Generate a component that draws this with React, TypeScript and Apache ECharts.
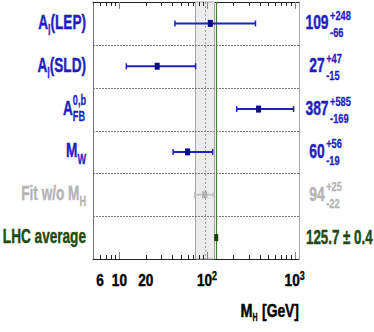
import React, { useEffect, useRef } from 'react';
import * as echarts from 'echarts';

// ---------------- data ----------------
const rowNames = ['A_l(LEP)', 'A_l(SLD)', 'A_FB^0,b', 'M_W', 'Fit w/o M_H', 'LHC average'];
const labelMain = ['A', 'A', 'A', 'M', 'Fit w/o M', 'LHC average'];
const labelSub = ['l', 'l', 'FB', 'W', 'H', ''];
const labelTail = ['(LEP)', '(SLD)', '', '', '', ''];
const labelSup = ['', '', '0,b', '', '', ''];
const centralValues = [109, 27, 387, 60, 94, 125.7];
const errorsUp = [248, 47, 585, 56, 25, 0.4];
const errorsDown = [66, 15, 169, 19, 22, 0.4];
const valueTexts = ['109', '27', '387', '60', '94', '125.7 \u00b1 0.4'];
const upTexts = ['+248', '+47', '+585', '+56', '+25', ''];
const downTexts = ['-66', '-15', '-169', '-19', '-22', ''];
const xTickLabels = [6, 10, 20, 100, 1000];
const xMajorTicks = [10, 100, 1000];
const xMinorTicks = [6, 7, 8, 9, 20, 30, 40, 50, 60, 70, 80, 90, 200, 300, 400, 500, 600, 700, 800, 900];
const xMin = 5;
const xMax = 1120;
const axisTitleMain = 'M';
const axisTitleSub = 'H';
const axisTitleUnit = '[GeV]';

// ---------------- styles ----------------
const FONT = '"Liberation Sans", Arial, Helvetica, sans-serif';
const BLUE_TEXT = '#1f1fbf';
const BLUE_BAR = '#2020c4';
const BLUE_MARK = '#0c0c90';
const GRAY_TEXT = '#b4b4b4';
const GRAY_BAR = '#c6c6c6';
const GRAY_MARK = '#b0b0b0';
const GREEN_TEXT = '#1d4a12';
const GREEN_MARK = '#16400c';
const GREEN_LINE = '#3f8030';
const rowTextColors = [BLUE_TEXT, BLUE_TEXT, BLUE_TEXT, BLUE_TEXT, GRAY_TEXT, GREEN_TEXT];
const rowBarColors = [BLUE_BAR, BLUE_BAR, BLUE_BAR, BLUE_BAR, GRAY_BAR, GREEN_MARK];
const rowMarkColors = [BLUE_MARK, BLUE_MARK, BLUE_MARK, BLUE_MARK, GRAY_MARK, GREEN_MARK];

const N = rowNames.length;
const FIT_ROW = rowNames.indexOf('Fit w/o M_H');
const LHC_ROW = rowNames.indexOf('LHC average');

let measureCtx: CanvasRenderingContext2D | null = null;
function textWidth(t: string, size: number): number {
  if (!t) return 0;
  if (!measureCtx) measureCtx = document.createElement('canvas').getContext('2d');
  if (!measureCtx) return t.length * size * 0.55;
  measureCtx.font = `bold ${size}px ${FONT}`;
  return measureCtx.measureText(t).width;
}

function txt(text: string, x: number, y: number, size: number, color: string, scaleX: number, align = 'left') {
  return {
    type: 'text',
    x,
    y,
    scaleX,
    scaleY: 1,
    silent: true,
    style: {
      text,
      x: 0,
      y: 0,
      fill: color,
      stroke: color,
      lineWidth: size > 15 ? 0.45 : 0.3,
      fontSize: size,
      fontWeight: 'bold',
      fontFamily: FONT,
      align,
      textAlign: align,
      verticalAlign: 'middle',
      textVerticalAlign: 'middle',
    },
  };
}

function frame(api: any) {
  const tl = api.coord([xMin, 0]);
  const br = api.coord([xMax, N]);
  return { left: tl[0], top: tl[1], right: br[0], bottom: br[1] };
}

const customBase = {
  type: 'custom',
  coordinateSystem: 'cartesian2d',
  xAxisIndex: 0,
  yAxisIndex: 0,
  clip: false,
  silent: true,
  encode: { x: 0, y: 1 },
};

const option: any = {
  animation: false,
  backgroundColor: '#ffffff',
  grid: { left: 93, right: 75, top: 2, bottom: 73, containLabel: false },
  xAxis: [
    {
      type: 'log', logBase: 10, min: xMin, max: xMax, position: 'bottom',
      axisLine: { show: true, onZero: false, lineStyle: { color: '#222', width: 1 } },
      axisTick: { show: false }, axisLabel: { show: false }, splitLine: { show: false },
    },
    {
      type: 'log', logBase: 10, min: xMin, max: xMax, position: 'top',
      axisLine: { show: true, onZero: false, lineStyle: { color: '#222', width: 1 } },
      axisTick: { show: false }, axisLabel: { show: false }, splitLine: { show: false },
    },
  ],
  yAxis: [
    {
      type: 'value', min: 0, max: N, inverse: true, position: 'left',
      axisLine: { show: true, onZero: false, lineStyle: { color: '#777', width: 1 } },
      axisTick: { show: false }, axisLabel: { show: false }, splitLine: { show: false },
    },
    {
      type: 'value', min: 0, max: N, inverse: true, position: 'right',
      axisLine: { show: true, onZero: false, lineStyle: { color: '#aaa', width: 1 } },
      axisTick: { show: false }, axisLabel: { show: false }, splitLine: { show: false },
    },
  ],
  series: [
    // background: fit band, centre line, LHC line, row separators
    {
      ...customBase,
      z: 1,
      data: [[centralValues[FIT_ROW], 0]],
      renderItem: (_p: any, api: any) => {
        const f = frame(api);
        const c = centralValues[FIT_ROW];
        const xl = api.coord([c - errorsDown[FIT_ROW], 0])[0];
        const xh = api.coord([c + errorsUp[FIT_ROW], 0])[0];
        const xc = Math.round(api.coord([c, 0])[0]) + 0.5;
        const xg = Math.round(api.coord([centralValues[LHC_ROW], 0])[0]) + 0.5;
        const children: any[] = [
          {
            type: 'rect',
            shape: { x: Math.round(xl) + 0.5, y: f.top, width: Math.round(xh - xl), height: f.bottom - f.top },
            style: { fill: '#ececec', stroke: '#a4a4a4', lineWidth: 1 },
          },
          {
            type: 'line',
            shape: { x1: xc, y1: f.top, x2: xc, y2: f.bottom },
            style: { stroke: '#9a9a9a', lineWidth: 1, lineDash: [2, 2] },
          },
          {
            type: 'line',
            shape: { x1: xg, y1: f.top, x2: xg, y2: f.bottom },
            style: { stroke: GREEN_LINE, lineWidth: 1.2 },
          },
        ];
        for (let k = 1; k < N; k++) {
          const y = Math.round(api.coord([xMin, k])[1]) + 0.5;
          children.push({
            type: 'line',
            shape: { x1: f.left, y1: y, x2: f.right, y2: y },
            style: { stroke: '#7a7a7a', lineWidth: 1, lineDash: [2, 1] },
          });
        }
        return { type: 'group', children };
      },
    },
    // axis ticks (bottom & top, pointing inside)
    {
      ...customBase,
      z: 3,
      data: [...xMinorTicks.map((v) => [v, 0, 0]), ...xMajorTicks.map((v) => [v, 0, 1])],
      renderItem: (_p: any, api: any) => {
        const f = frame(api);
        const major = api.value(2) === 1;
        const x = Math.round(api.coord([api.value(0), 0])[0]) + 0.5;
        const len = major ? 7 : 4;
        const color = major ? '#888' : '#222';
        return {
          type: 'group',
          children: [
            { type: 'line', shape: { x1: x, y1: f.bottom, x2: x, y2: f.bottom - len }, style: { stroke: color, lineWidth: 1 } },
            { type: 'line', shape: { x1: x, y1: f.top, x2: x, y2: f.top + len }, style: { stroke: color, lineWidth: 1 } },
          ],
        };
      },
    },
    // error bars and markers
    {
      ...customBase,
      z: 4,
      data: centralValues.map((c, i) => [c, i + 0.5, c - errorsDown[i], c + errorsUp[i]]),
      renderItem: (p: any, api: any) => {
        const i = p.dataIndex;
        const y = api.coord([api.value(0), api.value(1)])[1];
        const xc = api.coord([api.value(0), api.value(1)])[0];
        const xl = api.coord([api.value(2), api.value(1)])[0];
        const xh = api.coord([api.value(3), api.value(1)])[0];
        const children: any[] = [];
        if (xh - xl > 4) {
          children.push({ type: 'line', shape: { x1: xl, y1: y, x2: xh, y2: y }, style: { stroke: rowBarColors[i], lineWidth: 2 } });
          children.push({ type: 'line', shape: { x1: xl, y1: y - 3, x2: xl, y2: y + 3 }, style: { stroke: rowBarColors[i], lineWidth: 1.5 } });
          children.push({ type: 'line', shape: { x1: xh, y1: y - 3, x2: xh, y2: y + 3 }, style: { stroke: rowBarColors[i], lineWidth: 1.5 } });
          children.push({ type: 'rect', shape: { x: xc - 2.5, y: y - 3.5, width: 5, height: 7 }, style: { fill: rowMarkColors[i] } });
        } else {
          children.push({ type: 'rect', shape: { x: xc - 1.5, y: y - 3.5, width: 4, height: 7 }, style: { fill: rowMarkColors[i] } });
        }
        return { type: 'group', children };
      },
    },
    // left row labels
    {
      ...customBase,
      z: 5,
      data: rowNames.map((_n, i) => [xMin, i + 0.5]),
      renderItem: (p: any, api: any) => {
        const i = p.dataIndex;
        const f = frame(api);
        const cy = api.coord([xMin, i + 0.5])[1];
        const R = f.left - 7;
        const SC = 0.68;
        const SS = 0.65;
        const color = rowTextColors[i];
        const wMain = textWidth(labelMain[i], 20) * SC;
        const wSub = textWidth(labelSub[i], 14) * SS;
        const wSup = textWidth(labelSup[i], 14) * SS;
        const wScript = Math.max(wSub, wSup);
        const wTail = textWidth(labelTail[i], 20) * SC;
        const x0 = R - (wMain + wScript + wTail);
        const children: any[] = [txt(labelMain[i], x0, cy - 1, 20, color, SC)];
        if (labelSub[i]) children.push(txt(labelSub[i], x0 + wMain, cy + 7, 14, color, SS));
        if (labelSup[i]) children.push(txt(labelSup[i], x0 + wMain, cy - 9, 14, color, SS));
        if (labelTail[i]) children.push(txt(labelTail[i], x0 + wMain + wScript, cy - 1, 20, color, SC));
        return { type: 'group', children };
      },
    },
    // right value labels
    {
      ...customBase,
      z: 5,
      data: valueTexts.map((_t, i) => [xMax, i + 0.5]),
      renderItem: (p: any, api: any) => {
        const i = p.dataIndex;
        const f = frame(api);
        const cy = api.coord([xMax, i + 0.5])[1];
        const color = rowTextColors[i];
        if (!upTexts[i]) {
          return { type: 'group', children: [txt(valueTexts[i], f.right + 7, cy - 1, 21, color, 0.635)] };
        }
        const SC = 0.66;
        const SS = 0.77;
        const cx = f.right + 18;
        const wMain = textWidth(valueTexts[i], 21) * SC;
        const xs = cx + wMain / 2 + 1.5;
        return {
          type: 'group',
          children: [
            txt(valueTexts[i], cx, cy - 1, 21, color, SC, 'center'),
            txt(upTexts[i], xs, cy - 8, 12, color, SS),
            txt(downTexts[i], xs, cy + 9, 12, color, SS),
          ],
        };
      },
    },
    // x tick labels
    {
      ...customBase,
      z: 5,
      data: xTickLabels.map((v) => [v, N]),
      renderItem: (_p: any, api: any) => {
        const f = frame(api);
        const v = api.value(0);
        const x = api.coord([v, N])[0];
        const y = f.bottom + 21;
        const exp = Math.round(Math.log10(v));
        const isPow = v >= 100 && Math.abs(Math.pow(10, exp) - v) < 1e-9;
        if (!isPow) {
          return txt(String(v), x, y, 17, '#000', 0.8, 'center');
        }
        const wb = textWidth('10', 17) * 0.8;
        const we = textWidth(String(exp), 12) * 0.75;
        const x0 = x - (wb + we) / 2;
        return {
          type: 'group',
          children: [txt('10', x0, y, 17, '#000', 0.8), txt(String(exp), x0 + wb, y - 4.5, 12, '#000', 0.75)],
        };
      },
    },
    // axis title
    {
      ...customBase,
      z: 5,
      data: [[xMax, N]],
      renderItem: (_p: any, api: any) => {
        const f = frame(api);
        const y = f.bottom + 51.5;
        const wUnit = textWidth(axisTitleUnit, 19) * 0.73;
        const wSub = textWidth(axisTitleSub, 10) * 0.7;
        const wM = textWidth(axisTitleMain, 19) * 0.76;
        const xu = f.right - wUnit;
        const xs = xu - 4.5 - wSub;
        const xm = xs - wM;
        return {
          type: 'group',
          children: [
            txt(axisTitleMain, xm, y, 19, '#000', 0.76),
            txt(axisTitleSub, xs, y + 7, 10, '#000', 0.7),
            txt(axisTitleUnit, xu, y, 19, '#000', 0.73),
          ],
        };
      },
    },
  ],
};

export default function App() {
  const ref = useRef<HTMLDivElement>(null);
  useEffect(() => {
    if (!ref.current) return;
    const chart = echarts.init(ref.current, undefined, { renderer: 'svg' });
    chart.setOption(option);
    return () => chart.dispose();
  }, []);
  return (
    <div
      ref={ref}
      style={{ position: 'fixed', left: 0, top: 0, width: 374, height: 332, background: '#ffffff' }}
    />
  );
}
